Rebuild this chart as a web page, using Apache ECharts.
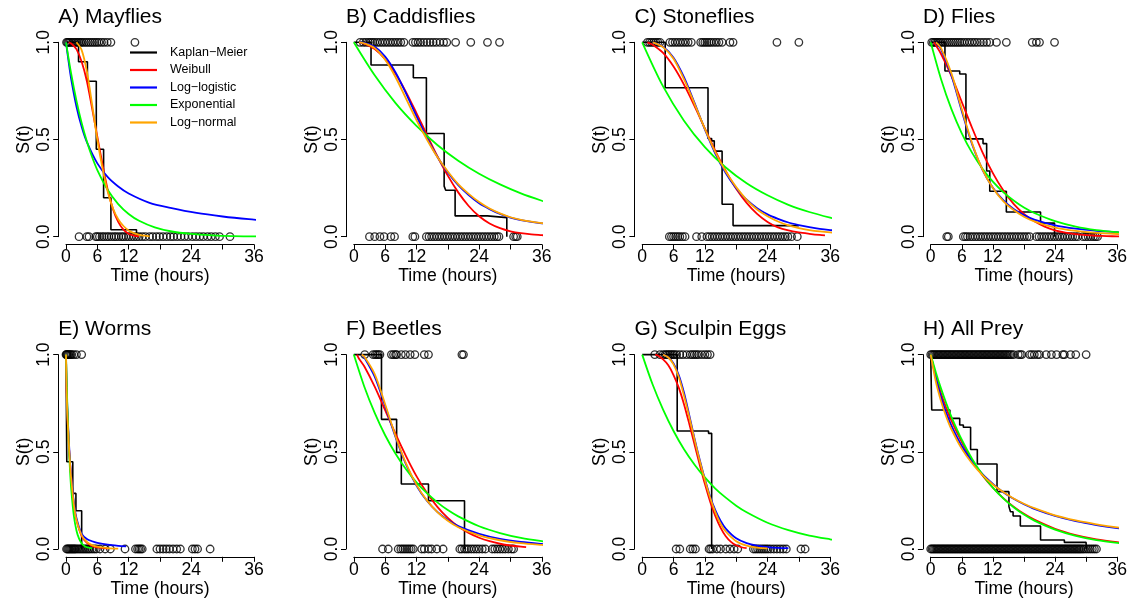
<!DOCTYPE html>
<html>
<head>
<meta charset="utf-8">
<script src="https://cdn.jsdelivr.net/npm/echarts@6/dist/echarts.min.js"></script>
<style>
  html, body { margin: 0; padding: 0; background: #fff; }
  #eChart { width: 1130px; height: 605px; }
</style>
</head>
<body>
<div id="eChart"></div>
<script>
// ---- data: [time (hours), S(t)] ----
const panelTitles = ["A) Mayflies", "B) Caddisflies", "C) Stoneflies", "D) Flies",
  "E) Worms", "F) Beetles", "G) Sculpin Eggs", "H) All Prey"];
const legendNames = ["Kaplan\u2212Meier", "Weibull", "Log\u2212logistic", "Exponential", "Log\u2212normal"];
const xTicks = [0, 6, 12, 18, 24, 30, 36];
const xTickLabels = ["0", "6", "12", "", "24", "", "36"];

// A) Mayflies
const kmA = [[0,1],[2.4,0.9],[4.1,0.8],[5.8,0.45],[7.2,0.2],[8.6,0.036],[13.5,0]];
const weibullA = [[0.5,1],[1,0.994],[2,0.965],[3,0.9],[4,0.8],[5,0.66],[6,0.515],[7,0.37],[8,0.24],[9,0.142],[10,0.076],[11,0.036],[12,0.015],[13,0.006],[14,0.002]];
const loglogA = [[0,1],[0.5,0.9],[1,0.81],[2,0.67],[3,0.565],[4,0.486],[6,0.377],[8,0.306],[10,0.258],[12,0.222],[16,0.174],[20,0.148],[25,0.122],[30,0.104],[35,0.09],[38.3,0.083]];
const expoA = [[0,1],[1,0.837],[2,0.7],[3,0.585],[4,0.49],[5,0.41],[6,0.343],[8,0.24],[10,0.168],[12,0.117],[14,0.082],[17,0.048],[20,0.028],[24,0.014],[28,0.007],[32,0.003],[36,0.0016],[38.3,0.001]];
const lognormA = [[2,1],[3,0.96],[4,0.85],[5,0.68],[6,0.5],[7,0.35],[8,0.23],[9,0.145],[10,0.09],[11,0.055],[12,0.032],[13,0.018],[14,0.01],[15,0.005],[16,0.002]];
const topA = [0.1,0.3,0.5,0.7,1.0,1.3,1.6,1.9,2.2,2.5,2.8,3.1,3.5,3.9,4.3,4.7,5.1,5.5,5.9,6.3,6.8,7.3,7.9,8.6,13.2];
const bottomA = [2.5,4.0,4.4,5.7,6.0,6.4,6.9,7.3,7.8,8.2,8.7,9.2,9.6,10.1,10.6,11.0,11.5,12.0,12.5,13.0,13.5,14.0,14.6,15.2,16.0,16.6,17.3,17.9,18.6,19.3,20.0,20.6,21.3,22.0,22.7,23.4,24.2,24.9,25.6,26.3,27.1,27.8,28.6,29.4,31.4];

// B) Caddisflies
const kmB = [[0,1],[3.3,0.883],[11.4,0.818],[13.9,0.531],[17.3,0.26],[17.6,0.239],[19.4,0.107],[25.6,0.098],[29.3,0]];
const weibullB = [[1,1],[2,0.993],[4,0.965],[6,0.913],[8,0.838],[10,0.744],[12,0.636],[14,0.524],[16,0.414],[18,0.314],[20,0.228],[22,0.158],[24,0.105],[26,0.068],[28,0.044],[30,0.028],[32,0.018],[34,0.012],[36,0.008],[37,0.006]];
const loglogB = [[1,1],[2,0.997],[4,0.977],[6,0.927],[8,0.845],[10,0.737],[12,0.62],[14,0.509],[16,0.411],[18,0.33],[20,0.265],[22,0.214],[24,0.172],[26,0.142],[28,0.117],[30,0.098],[32,0.085],[34,0.076],[36,0.069],[38.3,0.063]];
const expoB = [[0,1],[4,0.83],[8,0.687],[12,0.57],[16,0.472],[20,0.391],[24,0.324],[28,0.269],[32,0.223],[36,0.185],[38.3,0.166]];
const lognormB = [[1,1],[2,0.995],[4,0.97],[6,0.91],[8,0.82],[10,0.71],[12,0.6],[14,0.5],[16,0.41],[18,0.335],[20,0.27],[22,0.22],[24,0.178],[26,0.145],[28,0.12],[30,0.1],[32,0.087],[34,0.077],[36,0.07],[38.3,0.064]];
const topB = [1.2,1.8,2.3,2.8,3.2,3.6,4.0,4.5,5.0,5.5,6.0,6.5,7.0,7.5,8.0,8.5,9.0,9.6,11.3,11.8,12.3,12.8,13.4,14.0,14.6,15.2,15.8,16.5,17.2,17.8,19.5,22.4,25.6,27.9];
const bottomB = [3.0,4.0,5.0,5.8,7.1,7.8,11.3,11.7,13.9,14.4,14.9,15.4,15.9,16.4,16.9,17.4,17.9,18.4,18.9,19.4,19.9,20.4,20.9,21.4,21.9,22.4,22.9,23.4,23.9,24.4,24.9,25.4,25.9,26.4,26.9,27.4,27.8,30.6,31.0,31.3];

// C) Stoneflies
const kmC = [[0,1],[4.4,0.766],[12.6,0.505],[13.3,0.493],[13.8,0.44],[15.3,0.167],[17.4,0.057],[30,0.057]];
const weibullC = [[1,1],[2,0.987],[4,0.945],[6,0.875],[8,0.782],[10,0.673],[12,0.557],[14,0.442],[16,0.338],[18,0.247],[20,0.174],[22,0.117],[24,0.076],[26,0.048],[28,0.032],[30,0.022],[32,0.015],[34,0.009],[35,0.007]];
const loglogC = [[2,1],[4,0.977],[6,0.921],[8,0.821],[10,0.69],[12,0.552],[14,0.428],[16,0.327],[18,0.249],[20,0.19],[22,0.147],[24,0.115],[26,0.092],[28,0.073],[30,0.06],[32,0.049],[34,0.04],[36,0.034],[38.3,0.029]];
const expoC = [[0,1],[4,0.773],[8,0.597],[12,0.461],[16,0.356],[20,0.275],[24,0.213],[28,0.164],[32,0.127],[36,0.098],[38.3,0.084]];
const lognormC = [[2,1],[4,0.975],[6,0.915],[8,0.81],[10,0.685],[12,0.555],[14,0.435],[16,0.335],[18,0.255],[20,0.19],[22,0.14],[24,0.105],[26,0.078],[28,0.058],[30,0.044],[32,0.034],[34,0.027],[36,0.022],[38.3,0.018]];
const topC = [1.0,1.4,1.8,2.2,2.6,3.0,3.4,5.3,5.8,6.3,6.8,7.3,7.8,8.3,8.8,9.4,11.2,11.6,12.0,12.4,12.8,13.2,13.7,14.2,14.7,15.3,16.8,17.4,25.8,30.0];
const bottomC = [5.2,5.6,6.0,6.4,6.8,7.2,7.7,8.2,10.4,11.4,12.4,12.9,13.4,13.9,14.4,14.9,15.4,15.9,16.4,16.9,17.4,17.9,18.4,18.9,19.4,19.9,20.4,20.9,21.4,21.9,22.4,22.9,23.4,23.9,24.4,24.9,25.4,25.9,26.4,26.9,27.4,27.9,28.6,29.7];

// D) Flies
const kmD = [[0,1],[2.75,0.852],[5.6,0.837],[6.8,0.503],[10.1,0.479],[10.8,0.338],[11.4,0.234],[14.6,0.127],[21.2,0.07],[23.9,0]];
const weibullD = [[0.6,1],[2,0.94],[4,0.827],[6,0.693],[8,0.559],[10,0.434],[12,0.327],[14,0.239],[16,0.169],[18,0.117],[20,0.079],[22,0.052],[24,0.033],[26,0.021],[28,0.013],[30,0.008],[32,0.005],[34,0.003],[36,0.002],[38.3,0.001]];
const loglogD = [[1,1],[2,0.964],[4,0.83],[6,0.646],[8,0.475],[10,0.344],[12,0.252],[14,0.188],[16,0.143],[18,0.111],[20,0.088],[24,0.058],[28,0.041],[32,0.03],[36,0.023],[38.3,0.02]];
const expoD = [[0,1],[2,0.81],[4,0.656],[6,0.532],[8,0.431],[10,0.349],[12,0.283],[14,0.229],[16,0.186],[18,0.15],[20,0.122],[24,0.08],[28,0.052],[32,0.034],[36,0.023],[38.3,0.018]];
const lognormD = [[1,1],[2,0.97],[4,0.84],[6,0.655],[8,0.48],[10,0.345],[12,0.25],[14,0.183],[16,0.137],[18,0.103],[20,0.079],[24,0.047],[28,0.03],[32,0.02],[36,0.014],[38.3,0.012]];
const topD = [0.2,0.5,0.8,1.1,1.4,1.7,2.0,2.4,2.8,3.2,3.6,4.0,4.4,4.8,5.2,5.6,6.0,6.5,7.0,7.5,8.0,8.5,9.0,9.6,10.2,10.8,11.4,12.7,14.6,19.6,20.4,21.0,23.9];
const bottomD = [3.1,3.4,6.3,6.7,7.1,7.6,8.1,8.6,9.1,9.6,10.1,10.6,11.1,11.6,12.1,12.6,13.1,13.6,14.1,14.6,15.1,15.6,16.1,16.6,17.1,17.6,18.1,18.6,19.1,20.4,20.9,21.4,21.9,22.4,22.9,23.4,23.9,24.4,24.9,25.4,25.9,26.4,26.9,27.4,27.9,28.4,29.4,29.9,30.4,30.9,31.4,31.8,32.2];

// E) Worms
const kmE = [[0,1],[0.15,0.449],[1.3,0.286],[1.9,0.197],[3.0,0]];
const weibullE = [[0,1],[0.1,0.84],[0.25,0.71],[0.5,0.56],[0.75,0.45],[1,0.37],[1.5,0.23],[2,0.15],[3,0.066],[4,0.032],[5,0.016],[6,0.008],[8,0.002]];
const loglogE = [[0,1],[0.1,0.86],[0.25,0.73],[0.5,0.58],[0.75,0.46],[1,0.37],[1.5,0.24],[2,0.16],[3,0.078],[4,0.052],[5,0.04],[6,0.032],[8,0.022],[10,0.016],[11.5,0.013]];
const expoE = [[0,1],[0.25,0.745],[0.5,0.555],[0.75,0.414],[1,0.308],[1.5,0.171],[2,0.095],[2.5,0.053],[3,0.029],[3.5,0.016],[4,0.009],[5,0.003]];
const lognormE = [[0,1],[0.1,0.83],[0.25,0.7],[0.5,0.56],[0.75,0.45],[1,0.36],[1.5,0.23],[2,0.15],[3,0.07],[4,0.036],[5,0.02],[6,0.012],[8,0.005],[10,0.002]];
const topE = [0,0.1,0.2,0.35,0.5,0.7,0.9,1.1,1.5,2.0,3.0];
const bottomE = [0.1,0.3,0.5,0.7,0.9,1.1,1.3,1.5,1.7,1.9,2.2,2.5,2.8,3.1,3.4,3.7,4.0,4.3,4.6,5.0,5.4,5.8,6.5,7.5,8.5,11.3,13.3,13.7,14.0,14.3,14.6,17.4,18.0,18.6,19.2,19.8,20.5,21.2,21.9,24.2,24.7,25.2,27.6];

// F) Beetles
const kmF = [[0,1],[5.3,0.667],[8.2,0.497],[9.1,0.334],[14.3,0.248],[21.2,0]];
const weibullF = [[0.6,1],[1,0.979],[2,0.94],[4,0.835],[6,0.714],[8,0.592],[10,0.478],[12,0.375],[14,0.289],[16,0.217],[18,0.16],[20,0.116],[22,0.083],[24,0.058],[26,0.04],[28,0.027],[30,0.018],[32,0.012],[33,0.01]];
const loglogF = [[1.5,1],[2,0.985],[4,0.886],[6,0.736],[8,0.575],[10,0.435],[12,0.327],[14,0.248],[16,0.191],[18,0.149],[20,0.118],[24,0.078],[28,0.052],[32,0.036],[36,0.026],[38.3,0.022]];
const expoF = [[0,1],[2,0.836],[4,0.7],[6,0.585],[8,0.49],[10,0.41],[12,0.343],[14,0.287],[16,0.24],[18,0.2],[20,0.168],[24,0.117],[28,0.082],[32,0.057],[36,0.04],[38.3,0.033]];
const lognormF = [[1.5,1],[2,0.99],[4,0.9],[6,0.745],[8,0.58],[10,0.44],[12,0.33],[14,0.25],[16,0.19],[18,0.145],[20,0.112],[24,0.07],[28,0.045],[32,0.03],[36,0.021],[38.3,0.017]];
const topF = [2.1,3.7,4.1,4.4,4.7,5.0,7.2,7.6,8.0,8.2,9.1,9.9,10.8,11.7,13.5,14.3,20.7,21.0];
const bottomF = [5.5,6.6,8.5,9.0,9.4,9.8,10.2,10.6,11.0,11.4,13.0,13.5,14.3,14.9,15.9,17.1,20.3,20.7,21.2,21.6,22.0,22.5,23.0,23.5,24.0,24.6,25.2,26.5,27.0,27.5,28.0,28.5,29.0,29.6,30.2,30.6];

// G) Sculpin Eggs
const kmG = [[0,1],[6.7,0.607],[12.7,0.595],[13.3,0]];
const weibullG = [[2.5,1],[3,0.995],[4,0.975],[5,0.945],[6,0.895],[7,0.83],[8,0.745],[9,0.645],[10,0.54],[11,0.435],[12,0.335],[13,0.245],[14,0.17],[15,0.11],[16,0.066],[17,0.037],[18,0.019],[19,0.009],[20,0.004]];
const loglogG = [[4,1],[5,0.985],[6,0.955],[7,0.895],[8,0.805],[9,0.69],[10,0.57],[11,0.46],[12,0.36],[13,0.27],[14,0.2],[15,0.145],[16,0.105],[18,0.055],[20,0.03],[22,0.017],[24,0.01],[26,0.006],[28,0.004]];
const expoG = [[0,1],[2,0.846],[4,0.717],[6,0.607],[8,0.513],[10,0.435],[12,0.368],[14,0.311],[16,0.264],[18,0.223],[20,0.189],[24,0.135],[28,0.097],[32,0.069],[36,0.05],[38.3,0.041]];
const lognormG = [[4,1],[5,0.985],[6,0.95],[7,0.885],[8,0.79],[9,0.68],[10,0.565],[11,0.455],[12,0.355],[13,0.265],[14,0.19],[15,0.13],[16,0.09],[18,0.04],[20,0.017],[22,0.007],[24,0.003]];
const topG = [2.4,3.4,4.0,4.4,4.7,5.0,5.3,5.6,5.9,6.2,6.6,7.2,7.8,8.5,9.2,9.6,10.0,10.4,10.8,11.4,12.0,12.5,13.0];
const bottomG = [6.5,7.2,9.2,9.7,10.2,12.8,13.1,13.5,14.3,15.0,16.0,16.8,17.6,18.3,21.3,21.7,22.1,22.5,22.9,23.3,23.7,24.1,24.6,25.2,25.8,26.4,27.0,27.6,30.4,31.2];

// H) All Prey
const kmH = [[0,1],[0.2,0.715],[3.7,0.672],[5.6,0.638],[6.3,0.626],[7.7,0.512],[9.0,0.437],[12.8,0.295],[15.1,0.218],[15.4,0.192],[15.9,0.17],[17.3,0.118],[21.2,0.046],[25.8,0.034],[30,0]];
const weibullH = [[0,1],[1,0.89],[2,0.8],[3,0.725],[4,0.66],[6,0.55],[8,0.455],[10,0.378],[12,0.315],[14,0.262],[16,0.218],[18,0.181],[20,0.151],[24,0.104],[28,0.072],[32,0.05],[36,0.035],[38.3,0.029]];
const loglogH = [[0,1],[1,0.88],[2,0.78],[3,0.7],[4,0.635],[6,0.53],[8,0.45],[10,0.385],[12,0.335],[14,0.292],[16,0.258],[18,0.23],[20,0.206],[24,0.17],[28,0.143],[32,0.123],[36,0.107],[38.3,0.1]];
const expoH = [[0,1],[1,0.908],[2,0.825],[3,0.75],[4,0.68],[6,0.562],[8,0.463],[10,0.382],[12,0.316],[14,0.26],[16,0.215],[18,0.177],[20,0.146],[24,0.1],[28,0.068],[32,0.046],[36,0.031],[38.3,0.025]];
const lognormH = [[0,1],[1,0.86],[2,0.76],[3,0.68],[4,0.615],[6,0.515],[8,0.44],[10,0.38],[12,0.332],[14,0.293],[16,0.26],[18,0.233],[20,0.21],[24,0.173],[28,0.147],[32,0.127],[36,0.111],[38.3,0.104]];
const topH = [0,0.25,0.5,0.75,1,1.25,1.5,1.75,2,2.25,2.5,2.75,3,3.25,3.5,3.75,4,4.25,4.5,4.75,5,5.25,5.5,5.75,6,6.25,6.5,6.75,7,7.25,7.5,7.75,8,8.25,8.5,8.75,9,9.25,9.5,9.75,10,10.25,10.5,10.75,11,11.25,11.5,11.75,12,12.25,12.5,12.75,13,13.25,13.5,13.75,14,14.25,14.5,14.75,15,15.3,15.6,16,16.9,17.3,17.6,19.1,19.5,20.0,20.6,21.0,22.3,23.3,24.3,25.5,25.8,27.0,28.0,30.0];
const bottomH = [0,0.25,0.5,0.75,1,1.25,1.5,1.75,2,2.25,2.5,2.75,3,3.25,3.5,3.75,4,4.25,4.5,4.75,5,5.25,5.5,5.75,6,6.25,6.5,6.75,7,7.25,7.5,7.75,8,8.25,8.5,8.75,9,9.25,9.5,9.75,10,10.25,10.5,10.75,11,11.25,11.5,11.75,12,12.25,12.5,12.75,13,13.25,13.5,13.75,14,14.25,14.5,14.75,15,15.25,15.5,15.75,16,16.25,16.5,16.75,17,17.25,17.5,17.75,18,18.25,18.5,18.75,19,19.25,19.5,19.75,20,20.25,20.5,20.75,21,21.25,21.5,21.75,22,22.25,22.5,22.75,23,23.25,23.5,23.75,24,24.25,24.5,24.75,25,25.25,25.5,25.75,26,26.25,26.5,26.75,27,27.25,27.5,27.75,28,28.25,28.5,28.75,29,29.3,29.6,30,30.4,30.8,31.2,31.6,32];

// ---- layout / style ----
const FONT = "'Liberation Sans', Arial, Helvetica, sans-serif";
const colX = [66, 353.8, 642.2, 930.7];   // pixel of t = 0 in each column
const rowY = [42.3, 354.6];               // pixel of S = 1 in each row
const plotW = 188;                         // t = 0..36
const plotH = 194.4;                       // S = 0..1
const axisGap = 7.8;
const colors = ["#000000", "#ff0000", "#0000ff", "#00ff00", "#ffa500"];

const panels = [
  { km: kmA, fits: [weibullA, loglogA, expoA, lognormA], top: topA, bottom: bottomA },
  { km: kmB, fits: [weibullB, loglogB, expoB, lognormB], top: topB, bottom: bottomB },
  { km: kmC, fits: [weibullC, loglogC, expoC, lognormC], top: topC, bottom: bottomC },
  { km: kmD, fits: [weibullD, loglogD, expoD, lognormD], top: topD, bottom: bottomD },
  { km: kmE, fits: [weibullE, loglogE, expoE, lognormE], top: topE, bottom: bottomE },
  { km: kmF, fits: [weibullF, loglogF, expoF, lognormF], top: topF, bottom: bottomF },
  { km: kmG, fits: [weibullG, loglogG, expoG, lognormG], top: topG, bottom: bottomG },
  { km: kmH, fits: [weibullH, loglogH, expoH, lognormH], top: topH, bottom: bottomH },
];

const textBase = { color: "#000", fontFamily: FONT, fontSize: 17.6 };

const grid = [], xAxis = [], yAxis = [], title = [], series = [];

panels.forEach((p, i) => {
  const col = i % 4, row = Math.floor(i / 4);
  const left = colX[col], top = rowY[row];
  grid.push({ left, top, width: plotW, height: plotH, containLabel: false });
  title.push({
    text: panelTitles[i], left: left - axisGap, top: top - 36,
    padding: 0,
    textStyle: { color: "#000", fontFamily: FONT, fontSize: 21, fontWeight: "normal" },
  });
  xAxis.push({
    gridIndex: i, type: "value", min: 0, max: 36, interval: 6, offset: axisGap,
    axisLine: { show: true, onZero: false, lineStyle: { color: "#000", width: 1 } },
    axisTick: { show: true, length: 5, lineStyle: { color: "#000", width: 1 } },
    splitLine: { show: false },
    axisLabel: {
      ...textBase, margin: 4, hideOverlap: false,
      formatter: (v) => xTickLabels[xTicks.indexOf(v)] ?? "",
    },
    name: "Time (hours)", nameLocation: "middle", nameGap: 23,
    nameTextStyle: textBase,
  });
  yAxis.push({
    gridIndex: i, type: "value", min: 0, max: 1, interval: 0.5, offset: axisGap,
    axisLine: { show: true, onZero: false, lineStyle: { color: "#000", width: 1 } },
    axisTick: { show: true, length: 5, lineStyle: { color: "#000", width: 1 } },
    splitLine: { show: false },
    axisLabel: { ...textBase, rotate: 90, margin: 5, formatter: (v) => v.toFixed(1) },
    name: "S(t)", nameLocation: "middle", nameRotate: 90, nameGap: 25,
    nameTextStyle: textBase,
  });

  series.push({
    type: "line", name: legendNames[0], xAxisIndex: i, yAxisIndex: i,
    data: p.km, step: "end", symbol: "none", clip: false, silent: true,
    lineStyle: { color: colors[0], width: 1.6 }, itemStyle: { color: colors[0] },
  });
  p.fits.forEach((d, k) => {
    series.push({
      type: "line", name: legendNames[k + 1], xAxisIndex: i, yAxisIndex: i,
      data: d, smooth: 0.3, symbol: "none", clip: false, silent: true,
      lineStyle: { color: colors[k + 1], width: 1.8 }, itemStyle: { color: colors[k + 1] },
    });
  });
  [[p.top, 1], [p.bottom, 0]].forEach(([times, s]) => {
    series.push({
      type: "scatter", xAxisIndex: i, yAxisIndex: i,
      data: times.map((t) => [t, s]), symbol: "circle", symbolSize: 7.5,
      clip: false, silent: true,
      itemStyle: { color: "rgba(0,0,0,0)", borderColor: "#000", borderWidth: 1.3 },
    });
  });
});

const myChart = echarts.init(document.getElementById("eChart"), null, { renderer: "canvas" });
myChart.setOption({
  animation: false,
  backgroundColor: "#fff",
  title,
  grid,
  xAxis,
  yAxis,
  legend: {
    data: legendNames.map((name) => ({ name, icon: "rect" })),
    orient: "vertical", left: 130, top: 46,
    itemWidth: 27, itemHeight: 2.2, itemGap: 4.5, selectedMode: false, padding: 0,
    textStyle: { color: "#000", fontFamily: FONT, fontSize: 12.5, lineHeight: 12.5, padding: [0, 0, 0, 8] },
  },
  series,
});
</script>
</body>
</html>
